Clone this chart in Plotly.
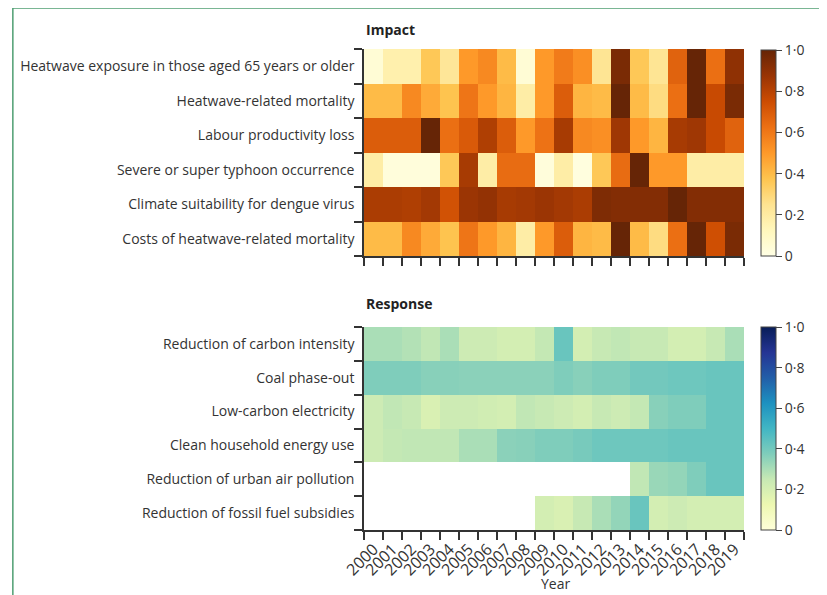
import plotly.graph_objects as go

years = list(range(2000, 2020))
year_labels = [str(y) for y in years]

impact_labels = [
    "Heatwave exposure in those aged 65 years or older",
    "Heatwave-related mortality",
    "Labour productivity loss",
    "Severe or super typhoon occurrence",
    "Climate suitability for dengue virus",
    "Costs of heatwave-related mortality",
]
heat_exposure = [0.05, 0.17, 0.17, 0.36, 0.23, 0.50, 0.55, 0.40, 0.05, 0.50,
                 0.59, 0.53, 0.24, 0.95, 0.36, 0.24, 0.67, 1.00, 0.63, 0.90]
heat_mortality = [0.40, 0.40, 0.55, 0.45, 0.375, 0.61, 0.50, 0.42, 0.19, 0.50,
                  0.69, 0.42, 0.40, 1.00, 0.40, 0.28, 0.63, 1.00, 0.76, 0.95]
labour_loss = [0.69, 0.69, 0.69, 1.00, 0.63, 0.70, 0.82, 0.69, 0.50, 0.62,
               0.84, 0.55, 0.53, 0.86, 0.50, 0.42, 0.84, 0.86, 0.76, 0.67]
typhoon = [0.19, 0.03, 0.03, 0.03, 0.36, 0.84, 0.19, 0.64, 0.64, 0.03,
           0.19, 0.02, 0.36, 0.64, 1.00, 0.50, 0.50, 0.19, 0.19, 0.19]
dengue = [0.83, 0.83, 0.82, 0.85, 0.73, 0.87, 0.89, 0.84, 0.85, 0.87,
          0.85, 0.83, 0.94, 0.93, 0.93, 0.93, 1.00, 0.93, 0.93, 0.93]
heat_costs = [0.40, 0.40, 0.55, 0.45, 0.375, 0.61, 0.50, 0.42, 0.19, 0.50,
              0.69, 0.42, 0.40, 1.00, 0.40, 0.28, 0.63, 1.00, 0.74, 0.95]
impact_values = [heat_exposure, heat_mortality, labour_loss, typhoon, dengue, heat_costs]

response_labels = [
    "Reduction of carbon intensity",
    "Coal phase-out",
    "Low-carbon electricity",
    "Clean household energy use",
    "Reduction of urban air pollution",
    "Reduction of fossil fuel subsidies",
]
carbon_intensity = [0.30, 0.30, 0.285, 0.26, 0.30, 0.23, 0.23, 0.21, 0.21, 0.255,
                    0.42, 0.21, 0.25, 0.26, 0.25, 0.25, 0.21, 0.21, 0.25, 0.30]
coal_phaseout = [0.375, 0.375, 0.375, 0.36, 0.36, 0.355, 0.355, 0.355, 0.355, 0.355,
                 0.375, 0.36, 0.375, 0.375, 0.40, 0.40, 0.41, 0.41, 0.42, 0.42]
low_carbon_elec = [0.23, 0.26, 0.25, 0.19, 0.23, 0.23, 0.22, 0.21, 0.26, 0.25,
                   0.23, 0.21, 0.25, 0.23, 0.255, 0.36, 0.375, 0.375, 0.42, 0.42]
household_energy = [0.23, 0.255, 0.26, 0.26, 0.26, 0.30, 0.30, 0.355, 0.36, 0.375,
                    0.375, 0.39, 0.41, 0.41, 0.41, 0.41, 0.42, 0.42, 0.42, 0.42]
urban_air = [None] * 14 + [0.26, 0.33, 0.34, 0.375, 0.42, 0.42]
fossil_subsidies = [None] * 9 + [0.21, 0.19, 0.25, 0.30, 0.34, 0.42, 0.21, 0.23, 0.21, 0.21, 0.21]
response_values = [carbon_intensity, coal_phaseout, low_carbon_elec,
                   household_energy, urban_air, fossil_subsidies]

cb_vals = [0, 0.2, 0.4, 0.6, 0.8, 1.0]
cb_text = ["0", "0·2", "0·4", "0·6", "0·8", "1·0"]

W, H = 827, 595
O = 8  # page body margin offset
L, R, T, B = 362 - O, 744 - O, 49 - O, 530 - O
pw, ph = R - L, B - T

def py(y):  # screen pixel y -> paper fraction
    return (B - (y - O)) / ph

def px(x):
    return ((x - O) - L) / pw

FONT = "Open Sans"
TXT = "#333333"

fig = go.Figure()
rows = list(range(6))

def cbar(ytop_px, ybot_px):
    return dict(x=px(761), xanchor="left", xpad=0, y=py(ytop_px), yanchor="top", ypad=0,
                len=(ybot_px - ytop_px) / ph, lenmode="fraction", thickness=15,
                outlinewidth=1, outlinecolor="#444", ticks="outside", ticklen=6,
                tickcolor="#444", tickvals=cb_vals, ticktext=cb_text,
                tickfont=dict(size=14, color=TXT, family=FONT))

fig.add_trace(go.Heatmap(
    z=impact_values, x=years, y=rows, zmin=0, zmax=1,
    colorscale="YlOrBr", xaxis="x", yaxis="y",
    colorbar=cbar(50, 256), hoverinfo="skip",
))
fig.add_trace(go.Heatmap(
    z=response_values, x=years, y=rows, zmin=0, zmax=1,
    colorscale="YlGnBu", xaxis="x2", yaxis="y2",
    colorbar=cbar(327, 530), hoverinfo="skip",
))

minor_x = dict(tickmode="array", tickvals=[y - 0.5 for y in years] + [2019.5],
               ticks="outside", ticklen=8, tickcolor="#333", tickwidth=1.5)
minor_y = dict(tickmode="array", tickvals=[r - 0.5 for r in rows] + [5.5],
               ticks="outside", ticklen=8, tickcolor="#333", tickwidth=1.5)

common_x = dict(range=[1999.5, 2019.5], showgrid=False, zeroline=False,
                showline=True, linecolor="#333", linewidth=1.5,
                tickvals=years, ticks="outside", ticklen=2,
                tickcolor="rgba(0,0,0,0)", minor=minor_x)
common_y = dict(range=[5.5, -0.5], showgrid=False, zeroline=False,
                showline=True, linecolor="#333", linewidth=1.5,
                tickvals=rows, ticks="outside", ticklen=5,
                tickcolor="rgba(0,0,0,0)", minor=minor_y,
                tickfont=dict(size=14, color=TXT, family=FONT))

fig.update_layout(
    width=W, height=H,
    margin=dict(l=L, r=W - R, t=T, b=H - B),
    paper_bgcolor="white", plot_bgcolor="white",
    font=dict(family=FONT, color=TXT, size=14),
    xaxis=dict(common_x, anchor="y", domain=[0, 1], showticklabels=False),
    yaxis=dict(common_y, anchor="x", domain=[py(256), 1], ticktext=impact_labels),
    xaxis2=dict(common_x, anchor="y2", domain=[0, 1], ticktext=year_labels,
                tickangle=-45, tickfont=dict(size=16, color=TXT, family=FONT)),
    yaxis2=dict(common_y, anchor="x2", domain=[0, py(327)], ticktext=response_labels),
    annotations=[
        dict(text="<b>Impact</b>", x=px(362), y=py(30), xref="paper", yref="paper",
             xanchor="left", yanchor="middle", showarrow=False,
             font=dict(size=14, color="#222", family=FONT)),
        dict(text="<b>Response</b>", x=px(362), y=py(303), xref="paper", yref="paper",
             xanchor="left", yanchor="middle", showarrow=False,
             font=dict(size=14, color="#222", family=FONT)),
        dict(text="Year", x=px(555), y=py(583), xref="paper", yref="paper",
             xanchor="center", yanchor="middle", showarrow=False,
             font=dict(size=14, color=TXT, family=FONT)),
    ],
    shapes=[
        dict(type="rect", xref="paper", yref="paper",
             x0=px(9), x1=px(821), y0=py(640), y1=py(8),
             line=dict(color="#4f9e72", width=1.5), fillcolor="rgba(0,0,0,0)",
             layer="below"),
    ],
)

fig.write_html("out.html")
